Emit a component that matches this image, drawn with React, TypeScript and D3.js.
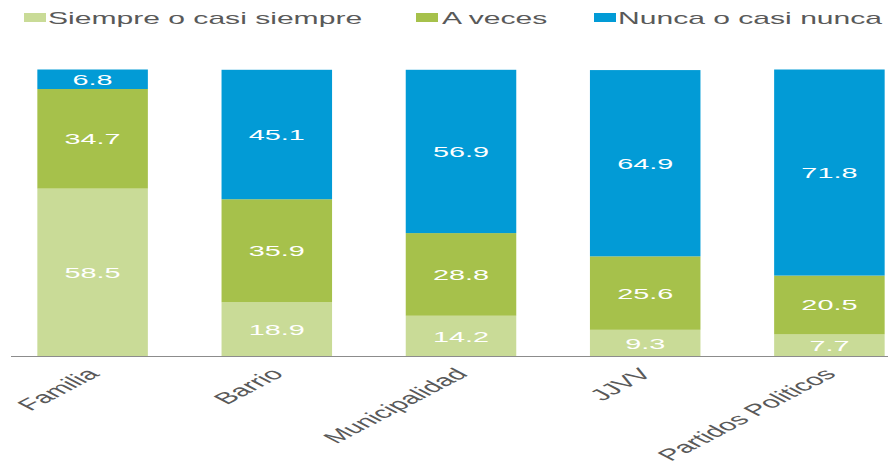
import React from "react";
import * as d3 from "d3";

const categories = ["Familia", "Barrio", "Municipalidad", "JJVV", "Partidos Politicos"];
const seriesNames = ["Siempre o casi siempre", "A veces", "Nunca o casi nunca"];
const siempre = [58.5, 18.9, 14.2, 9.3, 7.7];
const aveces = [34.7, 35.9, 28.8, 25.6, 20.5];
const nunca = [6.8, 45.1, 56.9, 64.9, 71.8];
const colors = ["#c9db97", "#a6c14b", "#029bd6"];

const W = 888;
const H = 462;
const SX = 1.92;
const LSX = 1.88;
const FONT = "'Liberation Sans', Arial, sans-serif";

export default function App() {
  const x = d3
    .scaleBand<string>()
    .domain(categories)
    .range([0.5, 921.5])
    .paddingInner(0.4)
    .paddingOuter(0.2);
  const y = d3.scaleLinear().domain([0, 100]).range([356.5, 69.5]);

  const rows = categories.map((c, i) => ({ cat: c, s0: siempre[i], s1: aveces[i], s2: nunca[i] }));
  const stack = d3.stack<any>().keys(["s0", "s1", "s2"])(rows);

  const legendX = [24, 416, 594];
  const legendTextX = [48, 442, 618];

  return (
    <svg width={W} height={H} style={{ position: "absolute", left: 0, top: 0 }}>
      <rect width={W} height={H} fill="#ffffff" />
      {stack.map((layer, li) =>
        layer.map((d, i) => {
          const x0 = x(categories[i]) as number;
          const bw = x.bandwidth();
          const yTop = y(d[1]);
          const yBot = y(d[0]);
          const cx = x0 + bw / 2;
          const cy = (yTop + yBot) / 2;
          const v = [siempre, aveces, nunca][li][i];
          return (
            <g key={`${li}-${i}`}>
              <rect x={x0} y={yTop} width={bw} height={yBot - yTop} fill={colors[li]} />
              <text
                transform={`translate(${cx},${cy + 5.5}) scale(${SX},1)`}
                textAnchor="middle"
                fontFamily={FONT}
                fontSize={15}
                fill="#ffffff"
              >
                {v.toFixed(1)}
              </text>
            </g>
          );
        })
      )}
      <line x1={11} x2={W} y1={356.5} y2={356.5} stroke="#8c8c8c" strokeWidth={1.2} />
      {categories.map((c) => {
        const cx = (x(c) as number) + x.bandwidth() / 2;
        return (
          <text
            key={c}
            transform={`translate(${cx + 8},${375}) scale(${SX},1) rotate(-45)`}
            textAnchor="end"
            fontFamily={FONT}
            fontSize={16}
            fill="#595959"
          >
            {c}
          </text>
        );
      })}
      {seriesNames.map((s, i) => (
        <g key={s}>
          <rect x={legendX[i]} y={13} width={22} height={9} fill={colors[i]} />
          <text
            transform={`translate(${legendTextX[i]},24) scale(${LSX},1)`}
            fontFamily={FONT}
            fontSize={16}
            fill="#595959"
          >
            {s}
          </text>
        </g>
      ))}
    </svg>
  );
}
